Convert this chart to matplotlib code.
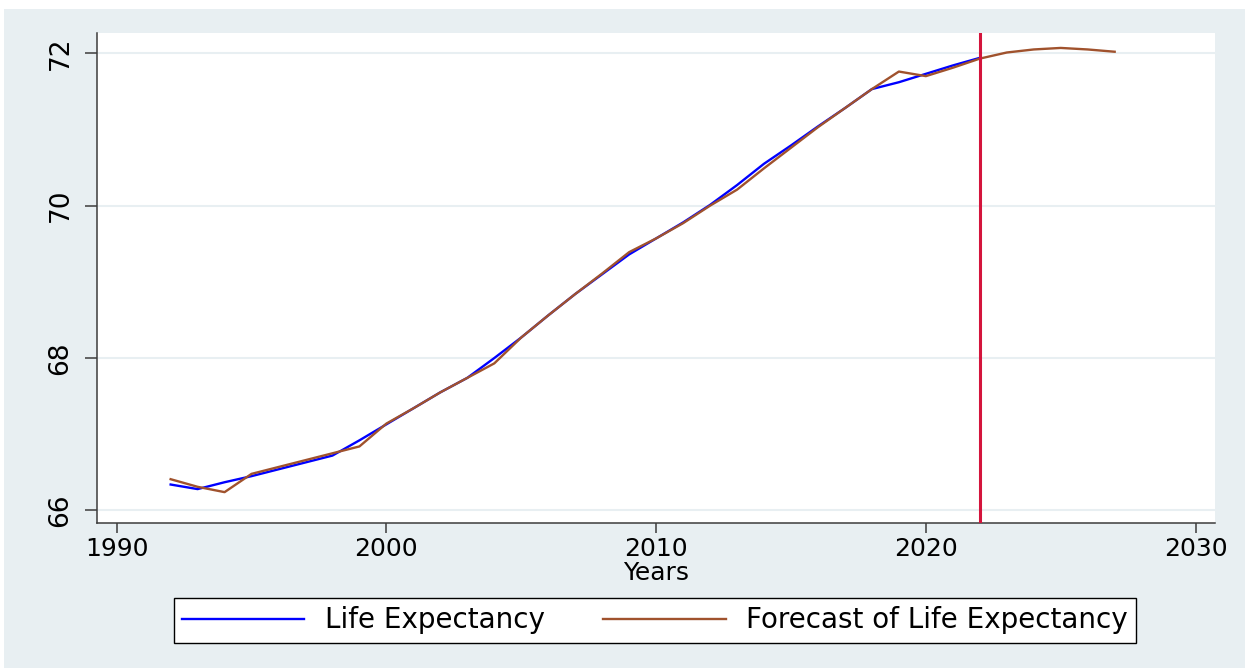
import numpy as np
import matplotlib
matplotlib.use("Agg")
import matplotlib.pyplot as plt
from matplotlib.patches import Rectangle

# data
years_le = list(range(1992, 2023))
life_exp = [66.34, 66.28, 66.37, 66.45, 66.54, 66.63, 66.72, 66.92, 67.13, 67.34,
            67.55, 67.74, 68.00, 68.27, 68.56, 68.84, 69.10, 69.36, 69.57, 69.78,
            70.01, 70.27, 70.55, 70.79, 71.04, 71.28, 71.53, 71.62, 71.73, 71.84,
            71.94]
years_fc = list(range(1992, 2028))
forecast = [66.41, 66.31, 66.24, 66.48, 66.57, 66.66, 66.75, 66.84, 67.14, 67.34,
            67.55, 67.74, 67.93, 68.27, 68.56, 68.84, 69.11, 69.39, 69.57, 69.77,
            70.00, 70.21, 70.49, 70.76, 71.03, 71.28, 71.53, 71.76, 71.70, 71.81,
            71.93, 72.01, 72.05, 72.07, 72.05, 72.02]
cutoff_year = 2022
x_ticks = [1990, 2000, 2010, 2020, 2030]
y_ticks = [66, 68, 70, 72]

bg = "#e8eff2"
plt.rcParams["font.family"] = ["DejaVu Sans"]

fig = plt.figure(figsize=(12.45, 6.68), dpi=100, facecolor="white")
fig.patches.append(Rectangle((4 / 1245, 0), 1, 1 - 9 / 668, transform=fig.transFigure,
                             facecolor=bg, edgecolor="none", zorder=-10))
ax = fig.add_axes([97 / 1245, 1 - 523 / 668, (1215 - 97) / 1245, (523 - 33) / 668])
ax.set_facecolor("white")

ax.plot(years_le, life_exp, color="#0000ff", lw=1.7, label="Life Expectancy", zorder=3)
ax.plot(years_fc, forecast, color="#a0522d", lw=1.7, label="Forecast of Life Expectancy", zorder=4)
ax.axvline(cutoff_year, color="#d4143c", lw=2.2, zorder=5)

ax.set_xlim(1989.27, 2030.72)
ax.set_ylim(65.835, 72.266)
ax.set_xticks(x_ticks)
ax.set_yticks(y_ticks)
ax.grid(axis="y", color=bg, lw=1.5)
ax.set_axisbelow(True)
for s in ["top", "right"]:
    ax.spines[s].set_visible(False)
for s in ["left", "bottom"]:
    ax.spines[s].set_color("#3c3c3c")
    ax.spines[s].set_linewidth(1.1)
ax.tick_params(axis="x", length=7, width=1.1, color="#3c3c3c", labelsize=18, pad=3)
ax.tick_params(axis="y", length=9, width=1.1, color="#3c3c3c", labelsize=19, pad=8,
               labelrotation=90)
for lab in ax.get_yticklabels():
    lab.set_va("center")
ax.set_xlabel("Years", fontsize=18, labelpad=0)

leg = fig.legend(loc="center", bbox_to_anchor=(655 / 1245, 1 - 620.5 / 668), ncol=2,
                 fontsize=20, frameon=True, fancybox=False, framealpha=1,
                 edgecolor="black", handlelength=4.4, handletextpad=0.75,
                 columnspacing=2.1, borderpad=0.3, borderaxespad=0)
leg.get_frame().set_linewidth(1.0)

fig.savefig("out.png", dpi=100, facecolor=fig.get_facecolor())
